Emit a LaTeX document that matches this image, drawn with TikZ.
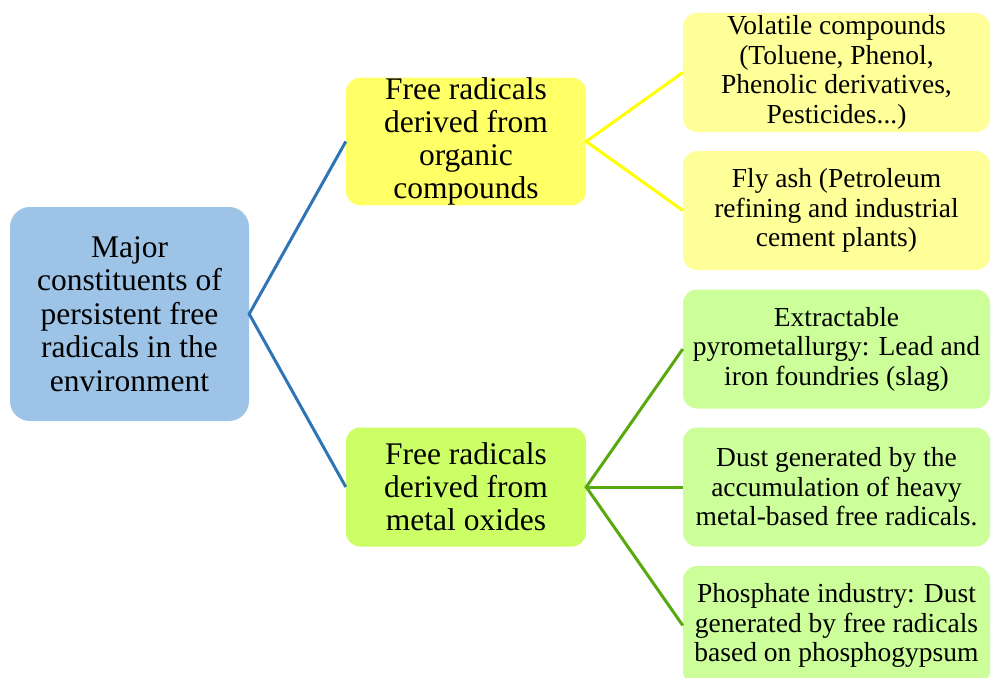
\documentclass[tikz,border=0pt]{standalone}
\usepackage{fontspec}
\setmainfont{LiberationSerif}[Extension=.ttf, UprightFont=*-Regular, BoldFont=*-Bold]
\definecolor{rootfill}{HTML}{9DC3E6}
\definecolor{bluel}{HTML}{2E75B6}
\definecolor{yelmid}{HTML}{FFFF66}
\definecolor{yelleaf}{HTML}{FFFF99}
\definecolor{yelline}{HTML}{FFFF00}
\definecolor{grnmid}{HTML}{CCFF66}
\definecolor{grnleaf}{HTML}{CCFF99}
\definecolor{grnline}{HTML}{58A80E}
\begin{document}
\begin{tikzpicture}[x=1pt,y=-1pt,
  box/.style={rounded corners=14pt, align=center, inner sep=0pt, text=black},
  rootbox/.style={box, fill=rootfill, minimum width=239pt, minimum height=214pt, rounded corners=20pt,
     font=\fontsize{31.5}{33.5}\selectfont},
  midbox/.style={box, minimum width=240pt, minimum height=119pt, font=\fontsize{31.5}{33}\selectfont},
  leafbox/.style={box, minimum width=307pt, minimum height=119pt, font=\fontsize{27.5}{29.5}\selectfont},
  conn/.style={line width=3pt}]
\useasboundingbox (0,0) rectangle (992,677);
\clip (0,0) rectangle (992,677);
\node[rootbox] (root) at (129.5,314) {Major\\constituents of\\persistent free\\radicals in the\\environment};
\node[midbox, fill=yelmid] (org) at (466,141.5) {Free radicals\\derived from\\organic\\compounds};
\node[midbox, fill=grnmid] (met) at (466,487) {Free radicals\\derived from\\metal oxides};
\node[leafbox, fill=yelleaf] (vol) at (836.5,72.5) {Volatile compounds\\(Toluene, Phenol,\\Phenolic derivatives,\\Pesticides...)};
\node[leafbox, fill=yelleaf] (fly) at (836.5,210.5) {Fly ash (Petroleum\\refining and industrial\\cement plants)};
\node[leafbox, fill=grnleaf] (ext) at (836.5,349) {Extractable\\pyrometallurgy: Lead and\\iron foundries (slag)};
\node[leafbox, fill=grnleaf] (dust) at (836.5,487) {Dust generated by the\\accumulation of heavy\\metal-based free radicals.};
\node[leafbox, fill=grnleaf] (phos) at (836.5,625.5) {Phosphate industry: Dust\\generated by free radicals\\based on phosphogypsum};
\draw[conn, bluel] (org.west) -- (root.east) -- (met.west);
\draw[conn, yelline] (vol.west) -- (org.east) -- (fly.west);
\draw[conn, grnline] (ext.west) -- (met.east) -- (phos.west);
\draw[conn, grnline] (met.east) -- (dust.west);
\end{tikzpicture}
\end{document}
